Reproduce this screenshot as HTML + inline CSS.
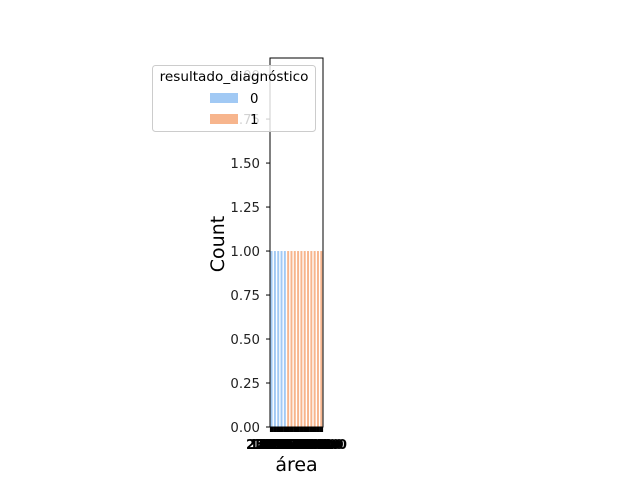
<!DOCTYPE html>
<html><head><meta charset="utf-8"><style>
body{margin:0;background:#fff;width:640px;height:480px;overflow:hidden}
svg{font-family:"DejaVu Sans","Liberation Sans",sans-serif}
</style></head><body>
<svg id="chart" width="640" height="480">
<g id="plot"></g>
</svg>
<script>
const categories=["2501.0","1001.0","1890.0","2250.0","1709.0","1297.0","1155.0","1327.0","1040.0","1191.0","1168.0","1260.0","1214.0","1203.0","1081.0","1261.0"];
const diagnosis=[0,0,0,0,0,1,1,1,1,1,1,1,1,1,1,1];
const counts=[1,1,1,1,1,1,1,1,1,1,1,1,1,1,1,1];
const yTicks=[0,0.25,0.5,0.75,1.0,1.25,1.5,1.75,2.0];
const yLabels=["0.00","0.25","0.50","0.75","1.00","1.25","1.50","1.75","2.00"];
const NS="http://www.w3.org/2000/svg";
const g=document.getElementById('plot');
const L=270,R=323,T=58,B=427,yMax=2.097;
const y=v=>B-(B-T)*v/yMax;
const step=(R-L)/categories.length;
const x=i=>L+step*i;
function mk(t,a){const e=document.createElementNS(NS,t);for(const k in a)e.setAttribute(k,a[k]);g.appendChild(e);return e;}
const colors=["#a1c9f4","#f7b58d"];
categories.forEach((c,i)=>{
  const r=mk('rect',{x:x(i)+0.6,y:y(counts[i]),width:step*0.6,height:B-y(counts[i]),fill:colors[diagnosis[i]]});
  
  
});
const frame=mk('rect',{x:L,y:T,width:R-L,height:B-T,fill:'none',stroke:'#000','stroke-width':1});


yTicks.forEach((v,i)=>{
  mk('line',{x1:L-4,x2:L,y1:y(v),y2:y(v),stroke:'#000'});
  const t=mk('text',{x:L-10,y:y(v)+5,'text-anchor':'end','font-size':13.3,fill:'#222'});
  t.textContent=yLabels[i];
  
  
});
categories.forEach((c,i)=>{
  const cx=x(i)+step/2;
  mk('line',{x1:cx,x2:cx,y1:B,y2:B+5,stroke:'#000','stroke-width':3.5});
  const t=mk('text',{x:cx,y:B+22,'text-anchor':'middle','font-size':13.3,fill:'#000','font-weight':'bold'});
  t.textContent=c;
  
  
});
const xt=mk('text',{x:(L+R)/2,y:471,'text-anchor':'middle','font-size':19});xt.textContent='área';


const yt=mk('text',{x:224,y:244,'text-anchor':'middle','font-size':19,transform:'rotate(-90 224 244)'});yt.textContent='Count';


const lg=mk('rect',{x:152.5,y:65.5,width:163,height:66,rx:3,fill:'#fff','fill-opacity':0.8,stroke:'#ccc'});


const lt=mk('text',{x:234,y:81,'text-anchor':'middle','font-size':13.6});lt.textContent='resultado_diagnóstico';


["0","1"].forEach((s,i)=>{
  mk('rect',{x:210,y:93+i*21,width:28,height:10,fill:colors[i]});
  const t=mk('text',{x:250,y:103+i*21,'font-size':13.3});t.textContent=s;
  
  
});
</script>
</body></html>
